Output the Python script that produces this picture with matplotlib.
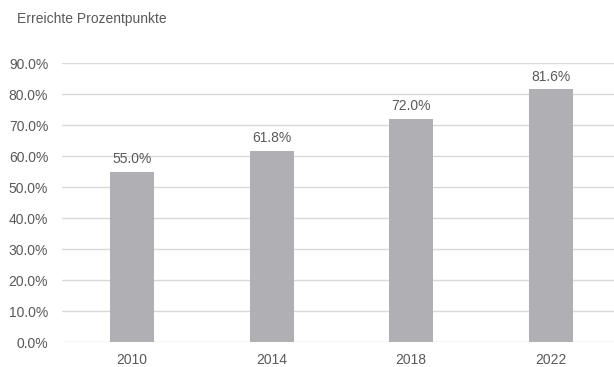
import matplotlib.pyplot as plt

years = ['2010', '2014', '2018', '2022']
values = [55.0, 61.8, 72.0, 81.6]
yticks = [0, 10, 20, 30, 40, 50, 60, 70, 80, 90]

plt.rcParams['font.family'] = ['Liberation Sans', 'DejaVu Sans']
text_color = '#595959'

fig = plt.figure(figsize=(6.14, 3.67), dpi=100)
ax = fig.add_axes([0.101, 0.068, 0.91, 0.76])

x = range(len(years))
bars = ax.bar(x, values, width=0.315, color='#b0b0b4', zorder=3)

for xi, v in zip(x, values):
    ax.annotate(f'{v:.1f}%', xy=(xi, v), xytext=(0, 4), textcoords='offset points',
                ha='center', va='bottom', fontsize=10, color=text_color)

ax.set_xlim(-0.5, 3.5)
ax.set_ylim(0, 90)
ax.set_yticks(yticks)
ax.set_yticklabels([f'{t:.1f}%' for t in yticks])
ax.set_xticks(list(x))
ax.set_xticklabels(years)
ax.tick_params(axis='both', length=0, labelsize=10, labelcolor=text_color)
ax.tick_params(axis='y', pad=10)
ax.tick_params(axis='x', pad=8)
ax.grid(axis='y', color='#d9d9d9', linewidth=1, zorder=0)
for s in ax.spines.values():
    s.set_visible(False)

fig.text(0.028, 0.948, 'Erreichte Prozentpunkte', fontsize=10, color=text_color,
         ha='left', va='center')

fig.savefig('out.png', dpi=100)
